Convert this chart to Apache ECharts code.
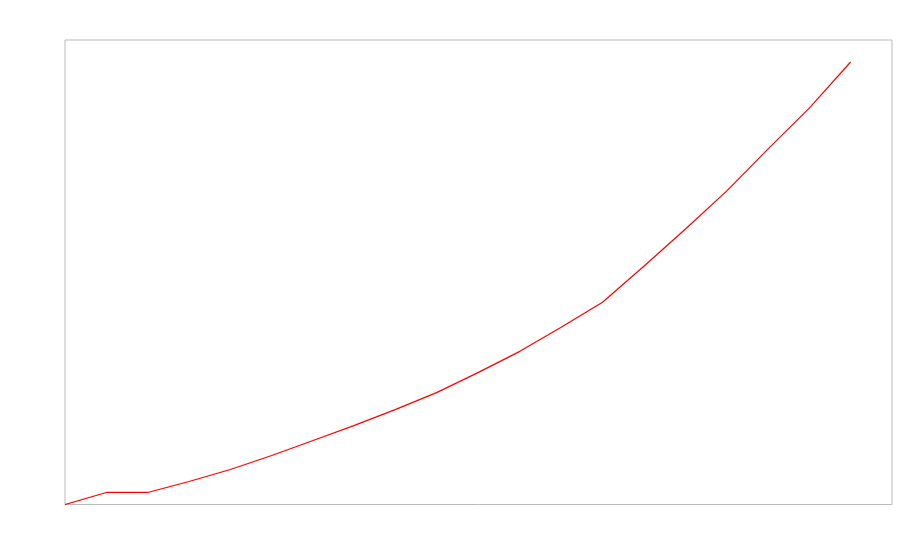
<!DOCTYPE html>
<html>
<head>
<meta charset="utf-8">
<script src="https://cdn.jsdelivr.net/npm/echarts@6/dist/echarts.min.js"></script>
<style>html,body{margin:0;padding:0;background:#fff}#c{width:900px;height:560px}</style>
</head>
<body>
<div id="c"></div>
<script>
var xValues = [0,1,2,3,4,5,6,7,8,9,10,11,12,13,14,15,16,17,18,19];
var yValues = [0,2.59,2.59,4.96,7.54,10.56,13.79,17.03,20.47,24.14,28.45,32.97,38.15,43.53,51.29,59.27,67.46,76.5,85.34,95.26];
var chart = echarts.init(document.getElementById('c'), null, {renderer:'canvas'});
chart.setOption({
  animation: false,
  backgroundColor: '#fff',
  grid: {show: true, left: 65, top: 40, width: 827, height: 464.5, borderColor: '#bbbbbb', borderWidth: 1, backgroundColor: 'transparent'},
  xAxis: {type: 'value', min: 0, max: 20, show: false},
  yAxis: {type: 'value', min: 0, max: 100, show: false},
  series: [{
    type: 'line',
    data: xValues.map(function(x,i){return [x, yValues[i]];}),
    showSymbol: false,
    symbol: 'none',
    lineStyle: {color: '#ff0000', width: 1.2},
    itemStyle: {color: '#ff0000'}
  }]
});
</script>
</body>
</html>
